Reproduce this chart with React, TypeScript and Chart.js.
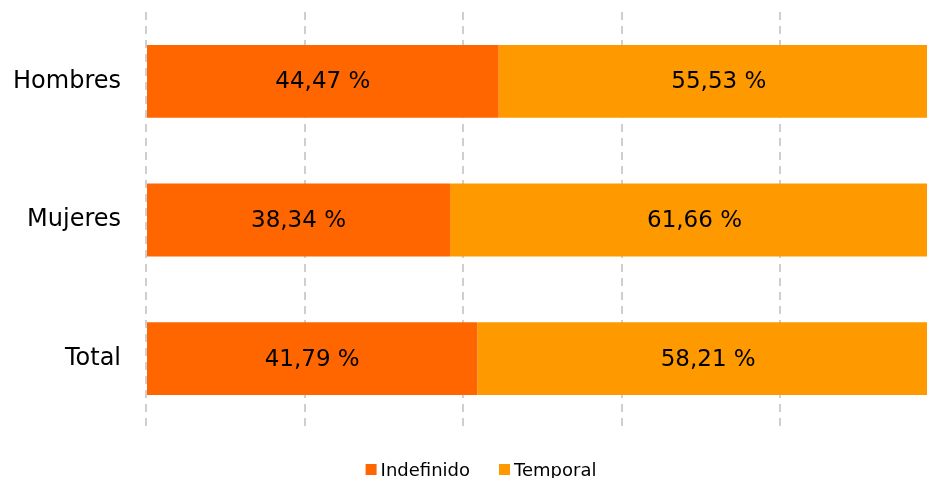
import React, { useEffect, useRef } from "react";
import { Chart, registerables } from "chart.js";

Chart.register(...registerables);

const categories = ["Hombres", "Mujeres", "Total"];
const seriesNames = ["Indefinido", "Temporal"];
const indefinido = [44.47, 38.34, 41.79];
const temporal = [55.53, 61.66, 58.21];
const seriesColors = ["#FF6600", "#FF9900"];
const xTicks = [0, 20, 40, 60, 80, 100];

const FONT = "'DejaVu Sans', Verdana, sans-serif";

const valueLabels = {
  id: "valueLabels",
  afterDatasetsDraw(chart: any) {
    const ctx = chart.ctx;
    ctx.save();
    ctx.font = `23px ${FONT}`;
    ctx.fillStyle = "#000";
    ctx.textAlign = "center";
    ctx.textBaseline = "middle";
    chart.data.datasets.forEach((ds: any, i: number) => {
      const meta = chart.getDatasetMeta(i);
      meta.data.forEach((el: any, j: number) => {
        const v = ds.data[j] as number;
        const { x, y, base } = el.getProps(["x", "y", "base"], true);
        ctx.fillText(v.toFixed(2).replace(".", ",") + " %", (x + base) / 2, y + 1);
      });
    });
    ctx.restore();
  },
};

const customLegend = {
  id: "customLegend",
  afterDraw(chart: any) {
    const ctx = chart.ctx;
    ctx.save();
    ctx.font = `18px ${FONT}`;
    ctx.textBaseline = "alphabetic";
    ctx.textAlign = "left";
    const box = 11;
    const gapText = 4;
    const gapItem = 29;
    const items = chart.data.datasets.map((d: any) => ({
      label: d.label,
      color: d.backgroundColor,
      w: box + gapText + ctx.measureText(d.label).width,
    }));
    const total = items.reduce((a: number, it: any) => a + it.w, 0) + gapItem * (items.length - 1);
    let x = 481 - total / 2;
    const baseY = 476;
    items.forEach((it: any) => {
      ctx.fillStyle = it.color;
      ctx.fillRect(x, baseY - 12, box, box);
      ctx.fillStyle = "#000";
      ctx.fillText(it.label, x + box + gapText, baseY);
      x += it.w + gapItem;
    });
    ctx.restore();
  },
};

export default function App() {
  const ref = useRef<HTMLCanvasElement | null>(null);

  useEffect(() => {
    if (!ref.current) return;
    const chart = new Chart(ref.current, {
      type: "bar",
      data: {
        labels: categories,
        datasets: [
          {
            label: seriesNames[0],
            data: indefinido,
            backgroundColor: seriesColors[0],
            borderWidth: 0,
            barPercentage: 0.525,
            categoryPercentage: 1,
          },
          {
            label: seriesNames[1],
            data: temporal,
            backgroundColor: seriesColors[1],
            borderWidth: 0,
            barPercentage: 0.525,
            categoryPercentage: 1,
          },
        ],
      },
      options: {
        indexAxis: "y",
        responsive: false,
        animation: false,
        layout: { padding: { top: 12, bottom: 50, left: 0, right: 0 } },
        plugins: {
          legend: { display: false },
          tooltip: { enabled: false },
        },
        scales: {
          x: {
            stacked: true,
            min: xTicks[0],
            max: xTicks[xTicks.length - 1],
            afterBuildTicks: (scale: any) => {
              scale.ticks = xTicks.map((v) => ({ value: v }));
            },
            afterFit: (scale: any) => {
              scale.height = 0;
              scale.paddingLeft = 0;
              scale.paddingRight = 0;
            },
            ticks: { display: false },
            grid: { color: "#CFCFCF", lineWidth: 2, drawTicks: false },
            border: { display: false, dash: [8, 6] },
          },
          y: {
            stacked: true,
            afterFit: (scale: any) => {
              scale.width = 146;
              scale.paddingTop = 0;
              scale.paddingBottom = 0;
            },
            ticks: {
              color: "#000",
              padding: 25,
              font: { family: FONT, size: 24 },
            },
            grid: { display: false, drawTicks: false },
            border: { display: false },
          },
        },
      },
      plugins: [valueLabels, customLegend],
    });
    return () => chart.destroy();
  }, []);

  return (
    <div
      style={{
        position: "fixed",
        left: 0,
        top: 0,
        width: 927,
        height: 478,
        overflow: "hidden",
        background: "#fff",
      }}
    >
      <canvas ref={ref} width={939} height={478} style={{ display: "block" }} />
    </div>
  );
}
